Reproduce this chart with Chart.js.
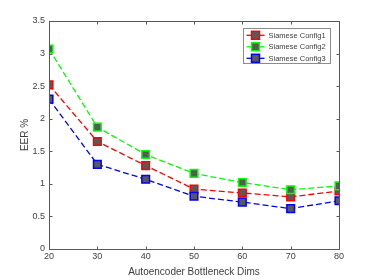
<!DOCTYPE html>
<html>
<head>
<meta charset="utf-8">
<script src="https://cdn.jsdelivr.net/npm/chart.js@4/dist/chart.umd.min.js"></script>
<style>
	html, body { margin: 0; padding: 0; background: #fff; }
	#wrap { width: 374px; height: 280px; }
</style>
</head>
<body>
<div id="wrap"><canvas id="myChart" width="374" height="280"></canvas></div>
<script>
// Data
const dims = [20, 30, 40, 50, 60, 70, 80];
const config1 = [2.52, 1.65, 1.28, 0.92, 0.86, 0.80, 0.89];
const config2 = [3.07, 1.87, 1.45, 1.16, 1.02, 0.91, 0.97];
const config3 = [2.30, 1.30, 1.07, 0.81, 0.72, 0.62, 0.74];
const seriesNames = ["Siamese Config1", "Siamese Config2", "Siamese Config3"];
const seriesColors = ["#ff0000", "#00ff00", "#0000ff"];

const markerFill = "#595959";
const axisColor = "#595959";
const textColor = "#404040";
const dash = [6, 3];

function toPoints(values) {
	return values.map((v, i) => ({ x: dims[i], y: v }));
}

function makeDataset(idx, values) {
	return {
		label: seriesNames[idx],
		data: toPoints(values),
		borderColor: seriesColors[idx],
		borderWidth: 1.3,
		borderDash: dash,
		pointStyle: "rect",
		pointRadius: 5.4,
		pointBorderWidth: 1.5,
		pointBackgroundColor: markerFill,
		pointBorderColor: seriesColors[idx],
		tension: 0,
		fill: false,
		order: 3 - idx,
	};
}

// --------------------------- Box, inward ticks and legend ---------------------------
const matlabAxes = {
	id: "matlabAxes",
	afterDraw(chart) {
		const { ctx, chartArea: a, scales } = chart;
		const L = Math.round(a.left) + 0.5;
		const R = Math.round(a.right) + 0.5;
		const T = Math.round(a.top) + 0.5;
		const B = Math.round(a.bottom) + 0.5;
		const tl = 3;
		ctx.save();
		ctx.strokeStyle = axisColor;
		ctx.lineWidth = 1;
		ctx.setLineDash([]);
		ctx.strokeRect(L, T, R - L, B - T);
		ctx.beginPath();
		scales.x.ticks.forEach((t) => {
			const px = Math.round(scales.x.getPixelForValue(t.value)) + 0.5;
			ctx.moveTo(px, B);
			ctx.lineTo(px, B - tl);
			ctx.moveTo(px, T);
			ctx.lineTo(px, T + tl);
		});
		scales.y.ticks.forEach((t) => {
			const py = Math.round(scales.y.getPixelForValue(t.value)) + 0.5;
			ctx.moveTo(L, py);
			ctx.lineTo(L + tl, py);
			ctx.moveTo(R, py);
			ctx.lineTo(R - tl, py);
		});
		ctx.stroke();

		// legend
		const bx = 243.5, by = 28.5, bw = 87, bh = 35;
		ctx.fillStyle = "#fff";
		ctx.fillRect(bx, by, bw, bh);
		ctx.strokeStyle = "#8c8c8c";
		ctx.strokeRect(bx, by, bw, bh);
		ctx.font = "7.5px 'Liberation Sans', Arial, sans-serif";
		ctx.textBaseline = "middle";
		chart.data.datasets.forEach((ds, i) => {
			const y = by + 6.8 + i * 11.5;
			ctx.strokeStyle = ds.borderColor;
			ctx.lineWidth = 1.3;
			ctx.beginPath();
			ctx.moveTo(bx + 3, y);
			ctx.lineTo(bx + 21, y);
			ctx.stroke();
			ctx.lineWidth = 1.5;
			ctx.fillStyle = markerFill;
			ctx.fillRect(bx + 8, y - 4, 8, 8);
			ctx.strokeRect(bx + 8, y - 4, 8, 8);
			ctx.fillStyle = textColor;
			ctx.fillText(ds.label, bx + 25, y + 0.5);
		});
		ctx.restore();
	},
};

// --------------------------- Chart Object ---------------------------
const ctx = document.getElementById("myChart").getContext("2d");
const eerChart = new Chart(ctx, {
	type: "line",
	data: {
		datasets: [makeDataset(0, config1), makeDataset(1, config2), makeDataset(2, config3)],
	},
	options: {
		animation: false,
		responsive: false,
		layout: { padding: { left: 0, right: 35, top: 21, bottom: 0 } },
		scales: {
			x: {
				type: "linear",
				min: 20,
				max: 80,
				afterFit: (s) => { s.height = 31; },
				ticks: {
					stepSize: 10,
					color: textColor,
					padding: 2,
					maxRotation: 0,
					font: { family: "'Liberation Sans', Arial, sans-serif", size: 9 },
				},
				grid: { display: false, drawTicks: false },
				border: { display: false },
				title: {
					display: true,
					text: "Autoencoder Bottleneck Dims",
					color: textColor,
					padding: { top: 0, bottom: 2 },
					font: { family: "'Liberation Sans', Arial, sans-serif", size: 10 },
				},
			},
			y: {
				min: 0,
				max: 3.5,
				afterFit: (s) => { s.width = 49; },
				ticks: {
					stepSize: 0.5,
					color: textColor,
					padding: 4,
					callback: (v) => `${v}`,
					font: { family: "'Liberation Sans', Arial, sans-serif", size: 9 },
				},
				grid: { display: false, drawTicks: false },
				border: { display: false },
				title: {
					display: true,
					text: "EER %",
					color: textColor,
					padding: { top: 19, bottom: 0 },
					font: { family: "'Liberation Sans', Arial, sans-serif", size: 10 },
				},
			},
		},
		plugins: {
			legend: { display: false },
			tooltip: { enabled: false },
		},
	},
	plugins: [matlabAxes],
});
</script>
</body>
</html>
